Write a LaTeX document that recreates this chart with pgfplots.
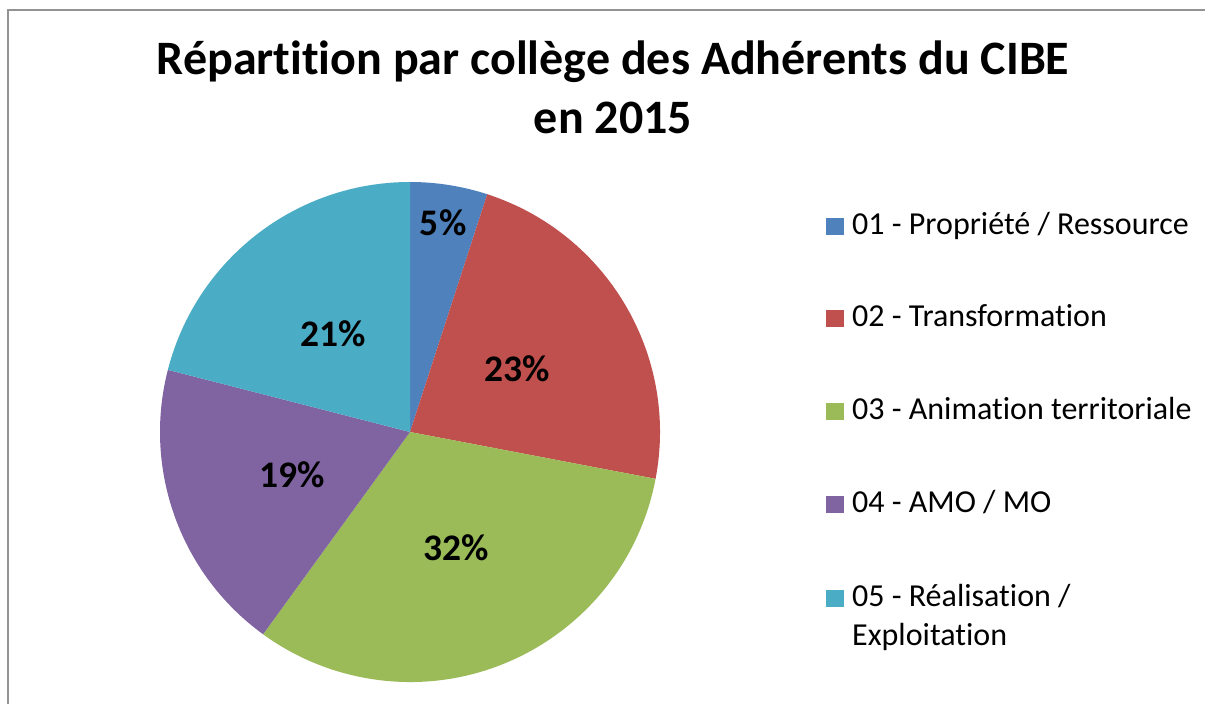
\documentclass[border=0pt]{standalone}
\usepackage{fontspec}
\setmainfont{Carlito}[RawFeature=-liga]
\usepackage{pgfplots}
\pgfplotsset{compat=1.18}
\usepackage{pgfplotstable}
\definecolor{c0}{HTML}{4F81BD}
\definecolor{c1}{HTML}{C0504D}
\definecolor{c2}{HTML}{9BBB59}
\definecolor{c3}{HTML}{8064A2}
\definecolor{c4}{HTML}{4BACC6}
\pgfplotstableread{
pct labr
5 212
23 125
32 125
19 125
21 125
}\piedata
\tikzset{pielabel/.style={font=\bfseries\fontsize{37.5}{44}\selectfont, inner sep=0pt},
         legtext/.style={font=\fontsize{32}{38}\selectfont, inner sep=0pt, anchor=base west}}
\begin{document}
\begin{tikzpicture}
\begin{axis}[scale only axis, width=1205pt, height=704pt,
  xmin=0, xmax=1205, ymin=0, ymax=704, axis lines=none, clip=false]
\coordinate (BL) at (axis cs:0,0);
\coordinate (TR) at (axis cs:1205,704);
\draw[gray!85, line width=2pt] (axis cs:8,0) -- (axis cs:8,694) -- (axis cs:1205,694);
\node[anchor=base, inner sep=0pt, font=\bfseries\fontsize{48}{57}\selectfont] at (axis cs:613,629) {Répartition par collège des Adhérents du CIBE};
\node[anchor=base, inner sep=0pt, font=\bfseries\fontsize{48}{57}\selectfont] at (axis cs:613,570) {en 2015};
\gdef\startang{90}
\pgfplotsforeachungrouped \i in {0,...,4}{%
  \pgfplotstablegetelem{\i}{pct}\of\piedata \let\pct\pgfplotsretval
  \pgfplotstablegetelem{\i}{labr}\of\piedata \let\labr\pgfplotsretval
  \pgfmathsetmacro\endang{\startang-3.6*\pct}%
  \pgfmathsetmacro\midang{\startang-1.8*\pct}%
  \edef\cmd{\noexpand\fill[c\i] (axis cs:410,272) -- ++(\startang:250pt) arc[start angle=\startang, end angle=\endang, radius=250pt] -- cycle;
    \noexpand\path (axis cs:410,272) ++(\midang:\labr pt) node[pielabel] {\pct\noexpand\%};}%
  \cmd
  \global\let\startang\endang
}
% legend
\fill[c0] (axis cs:826,469) rectangle (axis cs:844,486);
\node[legtext] at (axis cs:852,469) {01 - Propriété / Ressource};
\fill[c1] (axis cs:826,377) rectangle (axis cs:844,394);
\node[legtext] at (axis cs:852,377) {02 - Transformation};
\fill[c2] (axis cs:826,284) rectangle (axis cs:844,301);
\node[legtext] at (axis cs:852,284) {03 - Animation territoriale};
\fill[c3] (axis cs:826,191) rectangle (axis cs:844,208);
\node[legtext] at (axis cs:852,191) {04 - AMO / MO};
\fill[c4] (axis cs:826,97) rectangle (axis cs:844,114);
\node[legtext] at (axis cs:852,97) {05 - Réalisation /};
\node[legtext] at (axis cs:852,58) {Exploitation};
\end{axis}
\pgfresetboundingbox
\path[use as bounding box] (BL) rectangle (TR);
\end{tikzpicture}
\end{document}
